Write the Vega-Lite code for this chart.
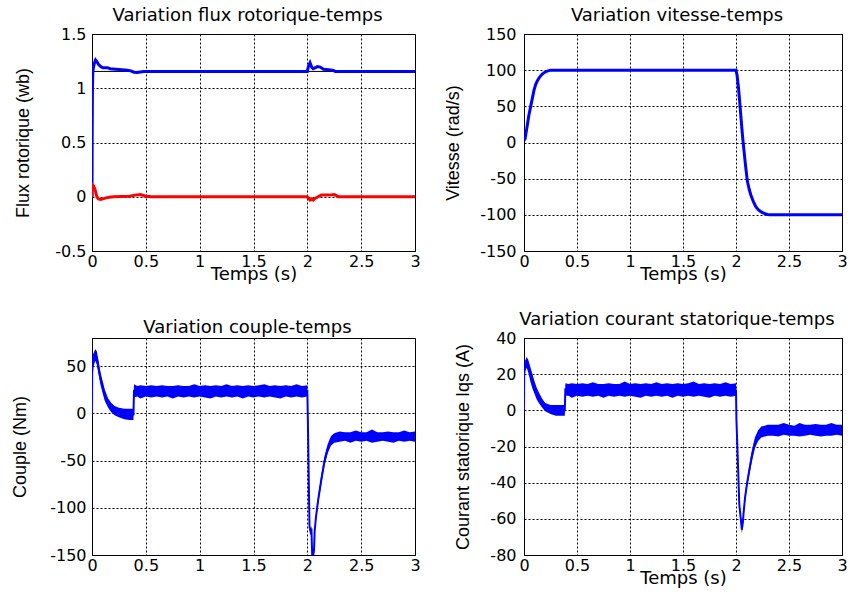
{
  "$schema": "https://vega.github.io/schema/vega-lite/v6.json",
  "background": "white",
  "padding": {"left": 10, "top": 6, "right": 0, "bottom": 0},
  "bounds": "flush",
  "columns": 2,
  "spacing": {"row": 87, "column": 109},
  "config": {
    "view": {"stroke": "black", "strokeWidth": 1},
    "axis": {
      "grid": true, "gridColor": "black", "gridDash": [2, 2], "gridOpacity": 1, "gridWidth": 1,
      "domain": true, "domainColor": "black", "domainWidth": 1,
      "ticks": false, "tickSize": 0,
      "labelFont": "DejaVu Sans", "labelFontSize": 16, "labelColor": "black",
      "labelFlush": false, "labelOverlap": false, "labelBound": false,
      "titleColor": "black", "titleFontWeight": "normal"
    },
    "axisX": {"labelPadding": 2, "titleFont": "DejaVu Sans", "titleFontSize": 18, "titleBaseline": "alphabetic", "titleY": 28},
    "axisY": {"labelPadding": 6, "titleFont": "Liberation Sans", "titleFontSize": 18, "titleBaseline": "alphabetic"},
    "title": {"font": "DejaVu Sans", "fontSize": 18, "fontWeight": "normal", "color": "black", "frame": "group", "dx": -6, "offset": 1, "baseline": "alphabetic"}
  },
  "datasets": {
    "fluxref": [{"t": 0, "v": 1.155}, {"t": 3, "v": 1.155}],
    "flux": [
      {"t": 0, "c": "phi_rd", "v": 0}, {"t": 0.002, "c": "phi_rd", "v": 0.6}, {"t": 0.004, "c": "phi_rd", "v": 1.0},
      {"t": 0.008, "c": "phi_rd", "v": 1.16}, {"t": 0.015, "c": "phi_rd", "v": 1.2}, {"t": 0.025, "c": "phi_rd", "v": 1.24},
      {"t": 0.033, "c": "phi_rd", "v": 1.26}, {"t": 0.045, "c": "phi_rd", "v": 1.245}, {"t": 0.06, "c": "phi_rd", "v": 1.22},
      {"t": 0.08, "c": "phi_rd", "v": 1.2}, {"t": 0.1, "c": "phi_rd", "v": 1.19}, {"t": 0.14, "c": "phi_rd", "v": 1.19},
      {"t": 0.17, "c": "phi_rd", "v": 1.18}, {"t": 0.22, "c": "phi_rd", "v": 1.175}, {"t": 0.28, "c": "phi_rd", "v": 1.17},
      {"t": 0.33, "c": "phi_rd", "v": 1.165}, {"t": 0.36, "c": "phi_rd", "v": 1.16}, {"t": 0.39, "c": "phi_rd", "v": 1.148},
      {"t": 0.42, "c": "phi_rd", "v": 1.145}, {"t": 0.45, "c": "phi_rd", "v": 1.15}, {"t": 0.48, "c": "phi_rd", "v": 1.155},
      {"t": 2.0, "c": "phi_rd", "v": 1.155}, {"t": 2.01, "c": "phi_rd", "v": 1.2}, {"t": 2.025, "c": "phi_rd", "v": 1.235},
      {"t": 2.04, "c": "phi_rd", "v": 1.195}, {"t": 2.055, "c": "phi_rd", "v": 1.18}, {"t": 2.075, "c": "phi_rd", "v": 1.19},
      {"t": 2.095, "c": "phi_rd", "v": 1.2}, {"t": 2.12, "c": "phi_rd", "v": 1.195}, {"t": 2.15, "c": "phi_rd", "v": 1.175},
      {"t": 2.2, "c": "phi_rd", "v": 1.17}, {"t": 2.24, "c": "phi_rd", "v": 1.165}, {"t": 2.26, "c": "phi_rd", "v": 1.155},
      {"t": 3.0, "c": "phi_rd", "v": 1.155},
      {"t": 0, "c": "phi_rq", "v": 0}, {"t": 0.002, "c": "phi_rq", "v": 0.11}, {"t": 0.015, "c": "phi_rq", "v": 0.1},
      {"t": 0.03, "c": "phi_rq", "v": 0.06}, {"t": 0.045, "c": "phi_rq", "v": 0.0}, {"t": 0.06, "c": "phi_rq", "v": -0.02},
      {"t": 0.08, "c": "phi_rq", "v": -0.025}, {"t": 0.1, "c": "phi_rq", "v": -0.02}, {"t": 0.13, "c": "phi_rq", "v": -0.01},
      {"t": 0.16, "c": "phi_rq", "v": -0.005}, {"t": 0.2, "c": "phi_rq", "v": 0.0}, {"t": 0.35, "c": "phi_rq", "v": 0.005},
      {"t": 0.4, "c": "phi_rq", "v": 0.015}, {"t": 0.45, "c": "phi_rq", "v": 0.02}, {"t": 0.5, "c": "phi_rq", "v": 0.005},
      {"t": 0.55, "c": "phi_rq", "v": 0}, {"t": 2.0, "c": "phi_rq", "v": 0}, {"t": 2.01, "c": "phi_rq", "v": -0.015},
      {"t": 2.025, "c": "phi_rq", "v": -0.03}, {"t": 2.04, "c": "phi_rq", "v": -0.02}, {"t": 2.055, "c": "phi_rq", "v": -0.03},
      {"t": 2.07, "c": "phi_rq", "v": -0.015}, {"t": 2.1, "c": "phi_rq", "v": 0.0}, {"t": 2.13, "c": "phi_rq", "v": 0.015},
      {"t": 2.2, "c": "phi_rq", "v": 0.015}, {"t": 2.25, "c": "phi_rq", "v": 0.02}, {"t": 2.27, "c": "phi_rq", "v": 0.01},
      {"t": 2.29, "c": "phi_rq", "v": 0}, {"t": 3.0, "c": "phi_rq", "v": 0}
    ],
    "speed": [
      {"t": 0, "w": 3}, {"t": 0.01, "w": 5}, {"t": 0.02, "w": 14}, {"t": 0.031, "w": 24}, {"t": 0.045, "w": 37},
      {"t": 0.063, "w": 50}, {"t": 0.08, "w": 62}, {"t": 0.094, "w": 72}, {"t": 0.11, "w": 80}, {"t": 0.125, "w": 85},
      {"t": 0.141, "w": 89}, {"t": 0.165, "w": 93.5}, {"t": 0.189, "w": 96.5}, {"t": 0.22, "w": 98.8}, {"t": 0.25, "w": 100},
      {"t": 2.0, "w": 100}, {"t": 2.01, "w": 93}, {"t": 2.024, "w": 75}, {"t": 2.035, "w": 56}, {"t": 2.045, "w": 38},
      {"t": 2.061, "w": 10}, {"t": 2.075, "w": -11}, {"t": 2.086, "w": -26.5}, {"t": 2.098, "w": -42}, {"t": 2.108, "w": -54},
      {"t": 2.125, "w": -65}, {"t": 2.14, "w": -72.6}, {"t": 2.165, "w": -82}, {"t": 2.187, "w": -88.7}, {"t": 2.21, "w": -93},
      {"t": 2.234, "w": -95.6}, {"t": 2.26, "w": -97.8}, {"t": 2.297, "w": -99.5}, {"t": 2.32, "w": -100}, {"t": 3.0, "w": -100}
    ],
    "torque": [
      {"t": 0, "lo": 0, "hi": 0, "mid": 0}, {"t": 0.002, "lo": 35, "hi": 60, "mid": 48}, {"t": 0.015, "lo": 50, "hi": 64, "mid": 57},
      {"t": 0.03, "lo": 56, "hi": 68, "mid": 62}, {"t": 0.045, "lo": 52, "hi": 66, "mid": 59}, {"t": 0.06, "lo": 42, "hi": 56, "mid": 49},
      {"t": 0.08, "lo": 30, "hi": 43, "mid": 36}, {"t": 0.1, "lo": 21, "hi": 34, "mid": 27}, {"t": 0.12, "lo": 13, "hi": 25, "mid": 19},
      {"t": 0.15, "lo": 6, "hi": 16, "mid": 11}, {"t": 0.18, "lo": 1, "hi": 11, "mid": 6}, {"t": 0.21, "lo": -2, "hi": 8, "mid": 3},
      {"t": 0.25, "lo": -4, "hi": 6, "mid": 1}, {"t": 0.3, "lo": -6, "hi": 5, "mid": 0}, {"t": 0.35, "lo": -7, "hi": 5, "mid": -1},
      {"t": 0.385, "lo": -7, "hi": 5, "mid": -1}, {"t": 0.39, "lo": 17, "hi": 31, "mid": 24},
      {"t": 0.42, "lo": 18, "hi": 29, "mid": 23.5}, {"t": 0.45, "lo": 16, "hi": 30, "mid": 23.5}, {"t": 0.5, "lo": 18, "hi": 29, "mid": 23.5},
      {"t": 0.55, "lo": 17, "hi": 30, "mid": 23.5}, {"t": 0.6, "lo": 18, "hi": 29, "mid": 23.5}, {"t": 0.65, "lo": 17, "hi": 30, "mid": 23.5},
      {"t": 0.7, "lo": 18, "hi": 29, "mid": 23.5}, {"t": 0.75, "lo": 16, "hi": 29, "mid": 23.5}, {"t": 0.8, "lo": 18, "hi": 30, "mid": 23.5},
      {"t": 0.85, "lo": 17, "hi": 29, "mid": 23.5}, {"t": 0.9, "lo": 18, "hi": 29, "mid": 23.5}, {"t": 0.95, "lo": 17, "hi": 31, "mid": 23.5},
      {"t": 1.0, "lo": 18, "hi": 29, "mid": 23.5}, {"t": 1.05, "lo": 17, "hi": 30, "mid": 23.5}, {"t": 1.1, "lo": 16, "hi": 29, "mid": 23.5},
      {"t": 1.15, "lo": 18, "hi": 30, "mid": 23.5}, {"t": 1.2, "lo": 17, "hi": 29, "mid": 23.5}, {"t": 1.25, "lo": 18, "hi": 31, "mid": 23.5},
      {"t": 1.3, "lo": 17, "hi": 29, "mid": 23.5}, {"t": 1.35, "lo": 18, "hi": 30, "mid": 23.5}, {"t": 1.4, "lo": 16, "hi": 29, "mid": 23.5},
      {"t": 1.45, "lo": 18, "hi": 30, "mid": 23.5}, {"t": 1.5, "lo": 17, "hi": 29, "mid": 23.5}, {"t": 1.55, "lo": 18, "hi": 30, "mid": 23.5},
      {"t": 1.6, "lo": 17, "hi": 31, "mid": 23.5}, {"t": 1.65, "lo": 18, "hi": 29, "mid": 23.5}, {"t": 1.7, "lo": 17, "hi": 30, "mid": 23.5},
      {"t": 1.75, "lo": 16, "hi": 29, "mid": 23.5}, {"t": 1.8, "lo": 18, "hi": 30, "mid": 23.5}, {"t": 1.85, "lo": 17, "hi": 29, "mid": 23.5},
      {"t": 1.9, "lo": 18, "hi": 31, "mid": 23.5}, {"t": 1.95, "lo": 17, "hi": 29, "mid": 23.5}, {"t": 2.0, "lo": 18, "hi": 30, "mid": 24},
      {"t": 2.004, "lo": -3, "hi": 3, "mid": 0}, {"t": 2.012, "lo": -63, "hi": -57, "mid": -60}, {"t": 2.02, "lo": -123, "hi": -117, "mid": -120},
      {"t": 2.03, "lo": -128, "hi": -122, "mid": -125}, {"t": 2.038, "lo": -125, "hi": -119, "mid": -122}, {"t": 2.045, "lo": -150, "hi": -146, "mid": -150},
      {"t": 2.055, "lo": -150, "hi": -147, "mid": -150}, {"t": 2.062, "lo": -148, "hi": -142, "mid": -145}, {"t": 2.068, "lo": -128, "hi": -122, "mid": -125},
      {"t": 2.08, "lo": -114, "hi": -106, "mid": -110}, {"t": 2.1, "lo": -96, "hi": -88, "mid": -92}, {"t": 2.13, "lo": -75, "hi": -65, "mid": -70},
      {"t": 2.16, "lo": -55, "hi": -45, "mid": -50}, {"t": 2.19, "lo": -42, "hi": -32, "mid": -37}, {"t": 2.22, "lo": -34, "hi": -24, "mid": -29},
      {"t": 2.25, "lo": -31, "hi": -21, "mid": -26}, {"t": 2.3, "lo": -30, "hi": -19, "mid": -25}, {"t": 2.35, "lo": -29, "hi": -20, "mid": -25},
      {"t": 2.4, "lo": -31, "hi": -20, "mid": -25}, {"t": 2.45, "lo": -29, "hi": -18, "mid": -25}, {"t": 2.5, "lo": -30, "hi": -20, "mid": -25},
      {"t": 2.55, "lo": -29, "hi": -20, "mid": -25}, {"t": 2.6, "lo": -31, "hi": -17, "mid": -25}, {"t": 2.65, "lo": -30, "hi": -20, "mid": -25},
      {"t": 2.7, "lo": -29, "hi": -20, "mid": -25}, {"t": 2.75, "lo": -30, "hi": -19, "mid": -25}, {"t": 2.8, "lo": -31, "hi": -20, "mid": -25},
      {"t": 2.85, "lo": -29, "hi": -20, "mid": -25}, {"t": 2.9, "lo": -30, "hi": -18, "mid": -25}, {"t": 2.95, "lo": -29, "hi": -20, "mid": -25},
      {"t": 3.0, "lo": -30, "hi": -19, "mid": -25}
    ],
    "current": [
      {"t": 0, "lo": 0, "hi": 0, "mid": 0}, {"t": 0.002, "lo": 18, "hi": 27, "mid": 22}, {"t": 0.015, "lo": 22, "hi": 28, "mid": 25},
      {"t": 0.025, "lo": 23.5, "hi": 29.5, "mid": 26.5}, {"t": 0.04, "lo": 21, "hi": 28, "mid": 24.5}, {"t": 0.06, "lo": 16, "hi": 24, "mid": 20},
      {"t": 0.08, "lo": 12, "hi": 20, "mid": 16}, {"t": 0.1, "lo": 9, "hi": 16, "mid": 12.5}, {"t": 0.12, "lo": 6, "hi": 12.5, "mid": 9},
      {"t": 0.14, "lo": 4, "hi": 10, "mid": 7}, {"t": 0.17, "lo": 1.5, "hi": 6.5, "mid": 4}, {"t": 0.2, "lo": -0.5, "hi": 4, "mid": 1.8},
      {"t": 0.25, "lo": -2, "hi": 3, "mid": 0.5}, {"t": 0.3, "lo": -3, "hi": 3, "mid": 0}, {"t": 0.385, "lo": -3, "hi": 3, "mid": 0},
      {"t": 0.39, "lo": 8, "hi": 15, "mid": 11.5},
      {"t": 0.42, "lo": 8, "hi": 14.5, "mid": 11.2}, {"t": 0.45, "lo": 7, "hi": 15, "mid": 11.2}, {"t": 0.5, "lo": 8, "hi": 14.5, "mid": 11.2},
      {"t": 0.55, "lo": 7.5, "hi": 15, "mid": 11.2}, {"t": 0.6, "lo": 8, "hi": 14.5, "mid": 11.2}, {"t": 0.65, "lo": 7.5, "hi": 15.5, "mid": 11.2},
      {"t": 0.7, "lo": 8, "hi": 14.5, "mid": 11.2}, {"t": 0.75, "lo": 7, "hi": 14.5, "mid": 11.2}, {"t": 0.8, "lo": 8, "hi": 15, "mid": 11.2},
      {"t": 0.85, "lo": 7.5, "hi": 14.5, "mid": 11.2}, {"t": 0.9, "lo": 8, "hi": 14.5, "mid": 11.2}, {"t": 0.95, "lo": 7.5, "hi": 16, "mid": 11.2},
      {"t": 1.0, "lo": 8, "hi": 14.5, "mid": 11.2}, {"t": 1.05, "lo": 7.5, "hi": 15, "mid": 11.2}, {"t": 1.1, "lo": 7, "hi": 14.5, "mid": 11.2},
      {"t": 1.15, "lo": 8, "hi": 15, "mid": 11.2}, {"t": 1.2, "lo": 7.5, "hi": 14.5, "mid": 11.2}, {"t": 1.25, "lo": 8, "hi": 15.5, "mid": 11.2},
      {"t": 1.3, "lo": 7.5, "hi": 14.5, "mid": 11.2}, {"t": 1.35, "lo": 8, "hi": 15, "mid": 11.2}, {"t": 1.4, "lo": 7, "hi": 14.5, "mid": 11.2},
      {"t": 1.45, "lo": 8, "hi": 15, "mid": 11.2}, {"t": 1.5, "lo": 7.5, "hi": 14.5, "mid": 11.2}, {"t": 1.55, "lo": 8, "hi": 15, "mid": 11.2},
      {"t": 1.6, "lo": 7.5, "hi": 16, "mid": 11.2}, {"t": 1.65, "lo": 8, "hi": 14.5, "mid": 11.2}, {"t": 1.7, "lo": 7.5, "hi": 15, "mid": 11.2},
      {"t": 1.75, "lo": 7, "hi": 14.5, "mid": 11.2}, {"t": 1.8, "lo": 8, "hi": 15, "mid": 11.2}, {"t": 1.85, "lo": 7.5, "hi": 14.5, "mid": 11.2},
      {"t": 1.9, "lo": 8, "hi": 15.5, "mid": 11.2}, {"t": 1.95, "lo": 7.5, "hi": 14.5, "mid": 11.2}, {"t": 2.0, "lo": 8, "hi": 15, "mid": 11},
      {"t": 2.004, "lo": -7, "hi": -3, "mid": -5}, {"t": 2.018, "lo": -31, "hi": -27, "mid": -29}, {"t": 2.031, "lo": -54, "hi": -50, "mid": -52},
      {"t": 2.045, "lo": -62, "hi": -58, "mid": -60}, {"t": 2.055, "lo": -68, "hi": -63, "mid": -66}, {"t": 2.065, "lo": -64, "hi": -60, "mid": -62},
      {"t": 2.071, "lo": -59, "hi": -55, "mid": -57}, {"t": 2.086, "lo": -50, "hi": -46, "mid": -48}, {"t": 2.1, "lo": -44, "hi": -40, "mid": -42},
      {"t": 2.117, "lo": -38.5, "hi": -33.5, "mid": -36}, {"t": 2.147, "lo": -29, "hi": -23, "mid": -26}, {"t": 2.178, "lo": -21, "hi": -15, "mid": -18},
      {"t": 2.209, "lo": -17, "hi": -11, "mid": -14}, {"t": 2.239, "lo": -15, "hi": -9, "mid": -12}, {"t": 2.3, "lo": -14, "hi": -8, "mid": -11},
      {"t": 2.35, "lo": -14, "hi": -8, "mid": -11}, {"t": 2.4, "lo": -14.5, "hi": -8, "mid": -11}, {"t": 2.45, "lo": -13.5, "hi": -7, "mid": -11},
      {"t": 2.5, "lo": -14, "hi": -8, "mid": -11}, {"t": 2.55, "lo": -14, "hi": -8.5, "mid": -11}, {"t": 2.6, "lo": -14.5, "hi": -7, "mid": -11},
      {"t": 2.65, "lo": -14, "hi": -8, "mid": -11}, {"t": 2.7, "lo": -13.5, "hi": -8, "mid": -11}, {"t": 2.75, "lo": -14, "hi": -7.5, "mid": -11},
      {"t": 2.8, "lo": -14.5, "hi": -8, "mid": -11}, {"t": 2.85, "lo": -14, "hi": -8, "mid": -11}, {"t": 2.9, "lo": -14, "hi": -7, "mid": -11},
      {"t": 2.95, "lo": -13.5, "hi": -8, "mid": -11}, {"t": 3.0, "lo": -14, "hi": -8, "mid": -11}
    ]
  },
  "concat": [
    {
      "width": 323, "height": 217,
      "title": "Variation flux rotorique-temps",
      "layer": [
        {
          "data": {"name": "fluxref"},
          "mark": {"type": "line", "color": "black", "strokeWidth": 1},
          "encoding": {
            "x": {"field": "t", "type": "quantitative", "scale": {"domain": [0, 3], "nice": false}, "axis": {"values": [0, 0.5, 1, 1.5, 2, 2.5, 3], "labelExpr": "'' + datum.value", "title": "Temps (s)"}},
            "y": {"field": "v", "type": "quantitative", "scale": {"domain": [-0.5, 1.5], "nice": false, "zero": false}, "axis": {"values": [-0.5, 0, 0.5, 1, 1.5], "labelExpr": "'' + datum.value", "title": "Flux rotorique (wb)", "titleX": -64}}
          }
        },
        {
          "data": {"name": "flux"},
          "mark": {"type": "line", "strokeWidth": 3, "clip": true},
          "encoding": {
            "x": {"field": "t", "type": "quantitative", "scale": {"domain": [0, 3], "nice": false}, "axis": {"values": [0, 0.5, 1, 1.5, 2, 2.5, 3], "labelExpr": "'' + datum.value", "title": "Temps (s)"}},
            "y": {"field": "v", "type": "quantitative", "scale": {"domain": [-0.5, 1.5], "nice": false, "zero": false}, "axis": {"values": [-0.5, 0, 0.5, 1, 1.5], "labelExpr": "'' + datum.value", "title": "Flux rotorique (wb)", "titleX": -64}},
            "color": {"field": "c", "type": "nominal", "scale": {"domain": ["phi_rd", "phi_rq"], "range": ["#0000ff", "#ff0000"]}, "legend": null}
          }
        }
      ]
    },
    {
      "width": 318, "height": 217,
      "title": "Variation vitesse-temps",
      "data": {"name": "speed"},
      "mark": {"type": "line", "strokeWidth": 3, "color": "#0000ff", "clip": true},
      "encoding": {
        "x": {"field": "t", "type": "quantitative", "scale": {"domain": [0, 3], "nice": false}, "axis": {"values": [0, 0.5, 1, 1.5, 2, 2.5, 3], "labelExpr": "'' + datum.value", "title": "Temps (s)"}},
        "y": {"field": "w", "type": "quantitative", "scale": {"domain": [-150, 150], "nice": false}, "axis": {"values": [-150, -100, -50, 0, 50, 100, 150], "labelExpr": "'' + datum.value", "title": "Vitesse (rad/s)", "titleX": -66, "labelPadding": 8}}
      }
    },
    {
      "width": 323, "height": 217,
      "title": "Variation couple-temps",
      "data": {"name": "torque"},
      "layer": [
        {
          "mark": {"type": "area", "color": "#0000ff", "opacity": 1, "clip": true},
          "encoding": {
            "x": {"field": "t", "type": "quantitative", "scale": {"domain": [0, 3], "nice": false}, "axis": {"values": [0, 0.5, 1, 1.5, 2, 2.5, 3], "labelExpr": "'' + datum.value", "title": null}},
            "y": {"field": "lo", "type": "quantitative", "scale": {"domain": [-150, 80], "nice": false}, "axis": {"values": [-150, -100, -50, 0, 50], "labelExpr": "'' + datum.value", "title": "Couple (Nm)", "titleX": -67}},
            "y2": {"field": "hi"}
          }
        },
        {
          "mark": {"type": "line", "color": "#0000ff", "strokeWidth": 2, "clip": true},
          "encoding": {
            "x": {"field": "t", "type": "quantitative", "scale": {"domain": [0, 3], "nice": false}, "axis": {"values": [0, 0.5, 1, 1.5, 2, 2.5, 3], "labelExpr": "'' + datum.value", "title": null}},
            "y": {"field": "mid", "type": "quantitative", "scale": {"domain": [-150, 80], "nice": false}, "axis": {"values": [-150, -100, -50, 0, 50], "labelExpr": "'' + datum.value", "title": "Couple (Nm)", "titleX": -67}}
          }
        }
      ]
    },
    {
      "width": 318, "height": 217,
      "title": "Variation courant statorique-temps",
      "data": {"name": "current"},
      "layer": [
        {
          "mark": {"type": "area", "color": "#0000ff", "opacity": 1, "clip": true},
          "encoding": {
            "x": {"field": "t", "type": "quantitative", "scale": {"domain": [0, 3], "nice": false}, "axis": {"values": [0, 0.5, 1, 1.5, 2, 2.5, 3], "labelExpr": "'' + datum.value", "title": "Temps (s)"}},
            "y": {"field": "lo", "type": "quantitative", "scale": {"domain": [-80, 40], "nice": false}, "axis": {"values": [-80, -60, -40, -20, 0, 20, 40], "labelExpr": "'' + datum.value", "title": "Courant statorique Iqs (A)", "titleX": -56, "labelPadding": 8}},
            "y2": {"field": "hi"}
          }
        },
        {
          "mark": {"type": "line", "color": "#0000ff", "strokeWidth": 2, "clip": true},
          "encoding": {
            "x": {"field": "t", "type": "quantitative", "scale": {"domain": [0, 3], "nice": false}, "axis": {"values": [0, 0.5, 1, 1.5, 2, 2.5, 3], "labelExpr": "'' + datum.value", "title": "Temps (s)"}},
            "y": {"field": "mid", "type": "quantitative", "scale": {"domain": [-80, 40], "nice": false}, "axis": {"values": [-80, -60, -40, -20, 0, 20, 40], "labelExpr": "'' + datum.value", "title": "Courant statorique Iqs (A)", "titleX": -56, "labelPadding": 8}}
          }
        }
      ]
    }
  ]
}
